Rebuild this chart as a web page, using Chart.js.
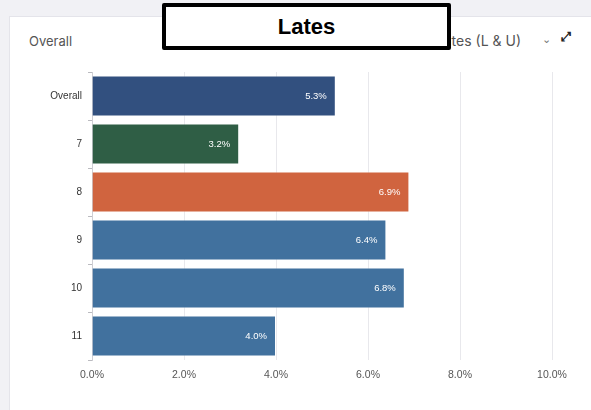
<!DOCTYPE html>
<html lang="en">
<head>
  <meta charset="UTF-8" />
  <title>Lates</title>
  <script src="https://cdn.jsdelivr.net/npm/chart.js"></script>
  <style>
    body { margin: 0; width: 591px; height: 410px; background: #f1f1f5; position: relative; overflow: hidden; font-family: "Liberation Sans", Arial, sans-serif; }
    .card { position: absolute; left: 9px; top: 16px; width: 600px; height: 420px; background: #fff; border: 1px solid #e4e4ea; }
    .title { position: absolute; left: 29px; top: 33px; font: 13px Inter, Roboto, sans-serif; color: #555; }
    .metric { position: absolute; right: 70px; top: 32px; font: 14px Inter, Roboto, sans-serif; color: #555; white-space: nowrap; }
    .chev { position: absolute; left: 542px; top: 33px; font: 11px "DejaVu Sans", sans-serif; color: #777; }
    .expand { position: absolute; left: 561px; top: 29px; font: bold 13px "DejaVu Sans", sans-serif; color: #222; }
    .lates { position: absolute; left: 162px; top: 3px; width: 281px; height: 39px; border: 4px solid #000; border-radius: 2px; background: #fff; font: bold 22px "Liberation Sans", Arial, sans-serif; text-align: center; line-height: 39px; color: #000; }
    #chartWrap { position: absolute; left: 20px; top: 60px; width: 560px; height: 335px; }
  </style>
</head>
<body>
  <div class="card"></div>
  <div class="title">Overall</div>
  <div class="metric">Showing Lates (L &amp; U)</div>
  <div class="chev">&#8964;</div>
  <div class="expand">&#10530;</div>
  <div class="lates">Lates</div>
  <div id="chartWrap"><canvas id="latesChart" width="560" height="335"></canvas></div>

  <script>
    const categories = ['Overall', '7', '8', '9', '10', '11'];
    const lateRates = [5.3, 3.2, 6.9, 6.4, 6.8, 4.0];
    const barColors = ['#32507f', '#2f5e45', '#d0643f', '#41719e', '#41719e', '#41719e'];
    const xTicks = [0, 2, 4, 6, 8, 10];

    // white value labels at the end of each bar
    const barLabels = {
      id: 'barLabels',
      afterDatasetsDraw(chart) {
        const ctx = chart.ctx;
        const meta = chart.getDatasetMeta(0);
        ctx.save();
        ctx.font = '9.5px "Liberation Sans", Arial, sans-serif';
        ctx.fillStyle = '#ffffff';
        ctx.textAlign = 'right';
        ctx.textBaseline = 'middle';
        meta.data.forEach((bar, i) => {
          ctx.fillText(lateRates[i].toFixed(1) + '%', bar.x - 9, bar.y);
        });
        ctx.restore();
      }
    };

    new Chart(document.getElementById('latesChart'), {
      type: 'bar',
      data: {
        labels: categories,
        datasets: [{
          data: lateRates,
          backgroundColor: barColors,
          borderColor: 'rgba(255,255,255,0.35)',
          borderWidth: 1,
          barPercentage: 0.85,
          categoryPercentage: 1
        }]
      },
      options: {
        indexAxis: 'y',
        responsive: false,
        animation: false,
        layout: { padding: { top: 12, right: 28, bottom: 0, left: 0 } },
        plugins: { legend: { display: false }, tooltip: { enabled: false } },
        scales: {
          x: {
            min: 0,
            max: 10,
            afterBuildTicks: scale => { scale.ticks = xTicks.map(v => ({ value: v })); },
            afterFit: scale => { scale.height = 35; },
            border: { display: false },
            grid: { color: '#e8e8ec', drawTicks: false },
            ticks: {
              padding: 9,
              color: '#555',
              font: { family: '"Liberation Sans", Arial, sans-serif', size: 10.5 },
              callback: v => v.toFixed(1) + '%'
            }
          },
          y: {
            afterFit: scale => { scale.width = 72; },
            border: { display: true, color: '#cfcfd4' },
            grid: { drawOnChartArea: false, offset: true, tickLength: 4, color: '#bbbbc0' },
            ticks: {
              padding: 6,
              color: '#333',
              font: { family: '"Liberation Sans", Arial, sans-serif', size: 10 }
            }
          }
        }
      },
      plugins: [barLabels]
    });
  </script>
</body>
</html>
